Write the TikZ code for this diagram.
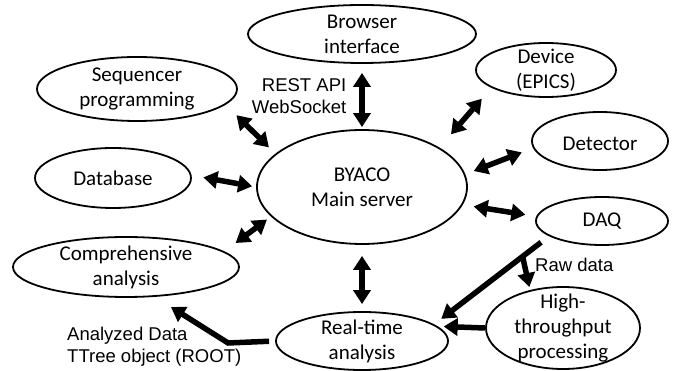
\documentclass[tikz,border=0pt]{standalone}
\usepackage{fontspec}
\setmainfont{Carlito}
\newfontfamily\arialfont{Liberation Sans}
\usetikzlibrary{shapes.geometric, arrows.meta, calc}
\tikzstyle{unit} = [ellipse, draw=black, line width=1.8pt, inner sep=0pt]
\tikzstyle{unittext} = [font=\fontsize{21}{25}\selectfont, align=center, inner sep=0pt]
\tikzstyle{lbl} = [font=\arialfont\fontsize{18.5}{22}\selectfont, inner sep=0pt]
\tikzstyle{link} = [line width=5.5pt, <->, >={Triangle[length=14pt,width=17pt]}]
\tikzstyle{flow} = [line width=5.5pt, ->, >={Triangle[length=14pt,width=17pt]}]

\begin{document}
\begin{tikzpicture}[x=1pt, y=-1pt]
\useasboundingbox (0,0) rectangle (673,371);

\node (browser) [unit, minimum width=228pt, minimum height=58pt, label={[unittext]center:Browser\\interface}] at (362,34) {};
\node (seq) [unit, minimum width=200pt, minimum height=64pt, label={[unittext]center:Sequencer\\programming}] at (137,89) {};
\node (db) [unit, minimum width=156pt, minimum height=60pt, label={[unittext]center:Database}] at (113,178) {};
\node (server) [unit, minimum width=210pt, minimum height=114pt, label={[unittext]center:BYACO\\Main server}] at (362,187) {};
\node (dev) [unit, minimum width=140pt, minimum height=54pt, label={[unittext]center:Device\\(EPICS)}] at (546,70) {};
\node (det) [unit, minimum width=136pt, minimum height=58pt, label={[unittext, yshift=-3pt]center:Detector}] at (600,141) {};
\node (daq) [unit, minimum width=132pt, minimum height=48pt, label={[unittext]center:DAQ}] at (602,221) {};
\node (comp) [unit, minimum width=226pt, minimum height=60pt, label={[unittext]center:Comprehensive\\analysis}] at (126,267) {};
\node (rt) [unit, minimum width=172pt, minimum height=58pt, label={[unittext]center:Real-time\\analysis}] at (362,341) {};
\node (ht) [unit, minimum width=154pt, minimum height=82pt, label={[unittext]center:High-\\throughput\\processing}] at (563,328) {};
\node (anlbl) [lbl, align=left, anchor=west] at (67,347) {Analyzed Data\\TTree object (ROOT)};

% Arrows
\draw [link, shorten <=9pt, shorten >=2pt] (browser.south) -- node[lbl, left=13pt, align=right] {REST API\\WebSocket} (server.north);
\draw [link, shorten <=15pt, shorten >=9pt] (seq.-10) -- (server.159);
\draw [link, shorten <=12pt, shorten >=4pt] (db.2) -- (server.180);
\draw [link, shorten <=14pt, shorten >=5pt] (comp.9) -- (server.198);
\draw [link, shorten <=17.5pt, shorten >=14.5pt] (server.27) -- (dev.198);
\draw [link, shorten <=9pt, shorten >=12pt] (server.7) -- (det.186);
\draw [link, shorten <=11pt, shorten >=11pt] (server.-10) -- (daq.176);
\draw [link, shorten <=11pt, shorten >=7pt] (server.south) -- (rt.north);
\draw [flow, shorten <=10pt, shorten >=9pt] (daq.196) -- coordinate[pos=0.23] (split) (rt.13);
\draw [flow, shorten >=3pt] (split) -- node[lbl, right=8pt, pos=0.25] {Raw data} (ht.131);
\draw [flow, shorten >=6pt] (ht.west) -- (rt.11);
\draw [flow, shorten <=6pt, shorten >=19pt] (rt.west) -- ++(-47,2) -- (comp.-46);

\end{tikzpicture}
\end{document}
